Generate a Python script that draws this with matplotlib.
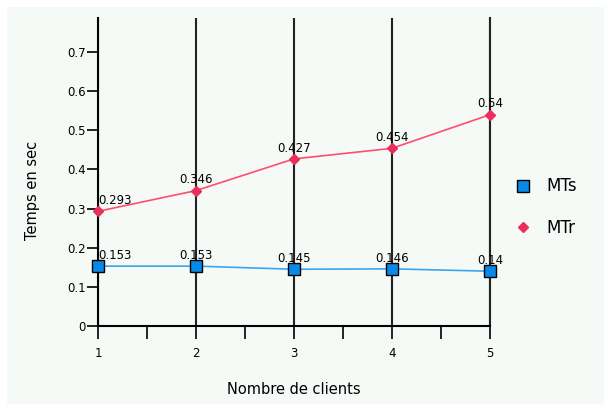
import matplotlib.pyplot as plt
from matplotlib.patches import Rectangle
from matplotlib.lines import Line2D
from matplotlib.ticker import MultipleLocator

clients = [1, 2, 3, 4, 5]
mts = [0.153, 0.153, 0.145, 0.146, 0.14]
mtr = [0.293, 0.346, 0.427, 0.454, 0.54]
yticks = [0, 0.1, 0.2, 0.3, 0.4, 0.5, 0.6, 0.7]

fig = plt.figure(figsize=(6.04, 4.04), dpi=100)
fig.patch.set_facecolor("white")
fig.patches.append(Rectangle((7 / 604, 0), 1, 1 - 7 / 404, transform=fig.transFigure,
                             facecolor="#f5faf7", edgecolor="none", zorder=-1))

ax = fig.add_axes([98 / 604, 1 - 326 / 404, 392 / 604, 308 / 404])
ax.set_facecolor("none")

ax.plot(clients, mts, color="#3aa6f0", lw=1.2, marker="s", markersize=9,
        markerfacecolor="#0a8ae8", markeredgecolor="black", markeredgewidth=1,
        clip_on=False, zorder=3)
ax.plot(clients, mtr, color="#ff4d6d", lw=1.2, marker="D", markersize=5.5,
        markerfacecolor="#e8305a", markeredgecolor="#e8305a",
        clip_on=False, zorder=3)

for series in (mts, mtr):
    for i, (x, y) in enumerate(zip(clients, series)):
        ha = "left" if i == 0 else "center"
        ax.annotate(f"{y:g}", (x, y), xytext=(0, 3), textcoords="offset points",
                    ha=ha, va="bottom", fontsize=8.5, color="black", zorder=4)

ax.set_xlim(1, 5)
ax.set_ylim(0, 0.787)
ax.set_xticks(clients)
ax.xaxis.set_minor_locator(MultipleLocator(0.5))
ax.set_yticks(yticks)
ax.set_yticklabels(["0" if v == 0 else f"{v:.1f}" for v in yticks])
ax.tick_params(axis="x", which="both", direction="out", length=9, width=1.2, pad=6, labelsize=8.5)
ax.tick_params(axis="y", direction="out", length=8, width=1.2, pad=1, labelsize=8.5)
ax.grid(axis="x", color="#222222", lw=1.5)

ax.spines["top"].set_visible(False)
ax.spines["left"].set_linewidth(1.5)
ax.spines["bottom"].set_linewidth(1.5)
ax.spines["right"].set_linewidth(1.5)
ax.spines["right"].set_color("#222222")

fig.text(32 / 604, 1 - 190 / 404, "Temps en sec", rotation=90, ha="center", va="center", fontsize=10.5)
fig.text(294 / 604, 1 - 390 / 404, "Nombre de clients", ha="center", va="center", fontsize=10.5)

handles = [
    Line2D([], [], ls="none", marker="s", markersize=9, markerfacecolor="#0a8ae8",
           markeredgecolor="black", markeredgewidth=1, label="MTs"),
    Line2D([], [], ls="none", marker="D", markersize=5.5, markerfacecolor="#e8305a",
           markeredgecolor="#e8305a", label="MTr"),
]
ax.legend(handles=handles, loc="center left", bbox_to_anchor=(1.025, 0.386), frameon=False,
          fontsize=12, handlelength=1, handletextpad=0.9, labelspacing=1.4)

fig.savefig("out.png", dpi=100)
